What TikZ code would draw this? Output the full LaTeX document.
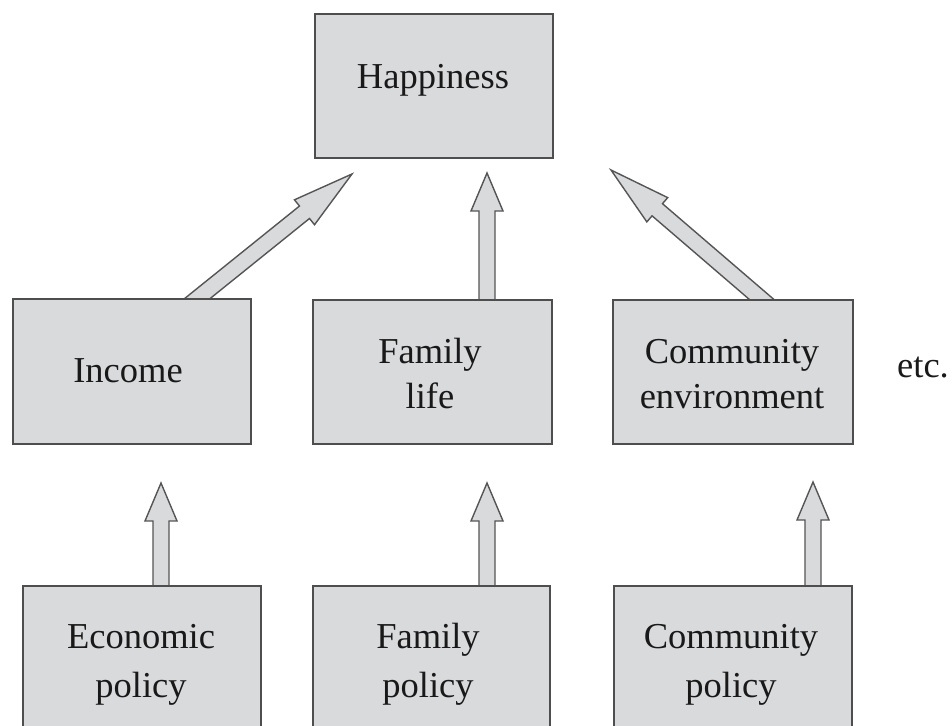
\documentclass[tikz,border=0pt]{standalone}
\usepackage{fontspec}
\setmainfont{Liberation Serif}
\usetikzlibrary{calc,backgrounds}
\definecolor{boxfill}{RGB}{217,218,220}
\definecolor{boxline}{RGB}{78,78,78}
\definecolor{arrline}{RGB}{85,85,85}
\definecolor{txt}{RGB}{25,25,25}
% #1 head length, #2 start, #3 tip
\newcommand{\blockarrow}[3]{%
  \path ($(#3)!#1!(#2)$) coordinate (bahead);
  \draw[barrow] ($(#2)!8pt!90:(#3)$) -- ($(bahead)!8pt!90:(#3)$) -- ($(bahead)!16pt!90:(#3)$) -- (#3)
     -- ($(bahead)!16pt!-90:(#3)$) -- ($(bahead)!8pt!-90:(#3)$) -- ($(#2)!8pt!-90:(#3)$) -- cycle;}
\tikzset{
  box/.style={draw=boxline, fill=boxfill, line width=1.8pt, minimum width=238pt, minimum height=144pt, inner sep=0pt, anchor=north west},
  lbl/.style={text=txt, font=\fontsize{36.5}{45}\selectfont, align=center, anchor=base, inner sep=0pt},
  lblb/.style={lbl, font=\fontsize{36.5}{49}\selectfont},
  barrow/.style={draw=arrline, fill=boxfill, line width=1.4pt, line join=miter},
}
\begin{document}
\begin{tikzpicture}[x=1pt,y=-1pt]
\useasboundingbox (0,0) rectangle (952,725);
\clip (0,0) rectangle (952,725);
% boxes
\node[box] (hap) at (314,13) {};
\node[box, minimum height=145pt] (inc) at (12,298) {};
\node[box, minimum width=239pt] (fam) at (312,299) {};
\node[box, minimum width=240pt] (com) at (612,299) {};
\node[box, minimum height=170pt] (eco) at (22,585) {};
\node[box, minimum width=237pt, minimum height=170pt] (fpo) at (312,585) {};
\node[box, minimum height=170pt] (cpo) at (613,585) {};
% texts (base = baseline of last line)
\node[lbl] (hapT) at (433,88) {Happiness};
\node[lbl] (incT) at (128,382) {Income};
\node[lbl] (famT) at (430,408) {Family\\life};
\node[lbl] (comT) at (732,408) {Community\\environment};
\node[lbl] (etcT) at (923,377) {etc.};
\node[lblb] (ecoT) at (141,697) {Economic\\policy};
\node[lblb] (fpoT) at (428,697) {Family\\policy};
\node[lblb] (cpoT) at (731,697) {Community\\policy};
% arrow ends
\coordinate (t1) at (352,174);
\coordinate (t2) at (487,173);
\coordinate (t3) at (611,170);
\coordinate (t4) at (161,483);
\coordinate (t5) at (487,483);
\coordinate (t6) at (813,482);
\coordinate (s1) at ($(inc.north west)+(173.6,10)$);
\coordinate (s2) at ($(fam.north west)+(175,6)$);
\coordinate (s3) at ($(com.north west)+(159.6,9)$);
\coordinate (s4) at ($(eco.north west)+(139,8)$);
\coordinate (s5) at ($(fpo.north west)+(175,8)$);
\coordinate (s6) at ($(cpo.north west)+(200,8)$);
\begin{pgfonlayer}{background}
\blockarrow{61pt}{s1}{t1}
\blockarrow{38pt}{s2}{t2}
\blockarrow{61pt}{s3}{t3}
\blockarrow{38pt}{s4}{t4}
\blockarrow{38pt}{s5}{t5}
\blockarrow{38pt}{s6}{t6}
\end{pgfonlayer}
\end{tikzpicture}
\end{document}
